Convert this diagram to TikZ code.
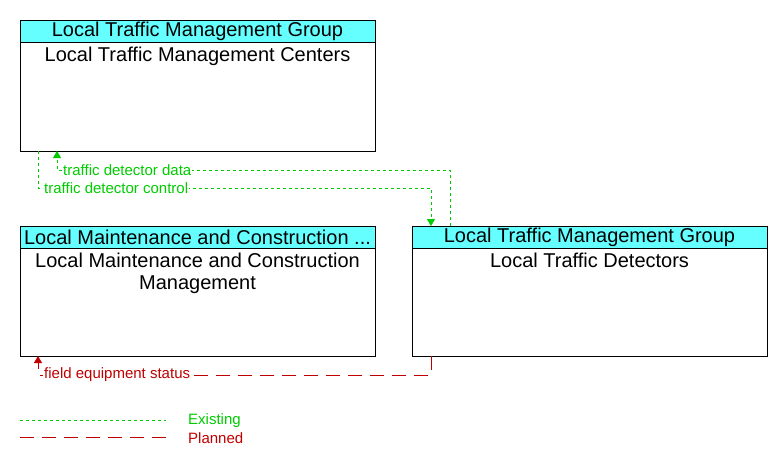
\documentclass[tikz,border=0pt]{standalone}
\usepackage{fontspec}
\setmainfont{Liberation Sans}
\usetikzlibrary{arrows.meta}
\definecolor{hdr}{RGB}{102,255,255}
\definecolor{exg}{RGB}{0,204,0}
\definecolor{pln}{RGB}{192,0,0}
\tikzset{
  x=1pt,y=-1pt,
  boxbody/.style={draw=black,line width=1pt,fill=white},
  boxhead/.style={draw=black,line width=1pt,fill=hdr},
  htext/.style={font=\fontsize{20}{22}\selectfont,anchor=center,inner sep=0},
  btext/.style={font=\fontsize{20}{22}\selectfont,align=center,anchor=north,inner sep=0},
  exist/.style={draw=exg,line width=0.8pt,dash pattern=on 3pt off 3pt},
  plan/.style={draw=pln,line width=0.8pt,dash pattern=on 14pt off 8pt},
  lbl/.style={font=\fontsize{15}{17}\selectfont,inner sep=1pt,fill=white},
  etip/.style={-{Triangle[length=7pt,width=8pt]}},
}
\begin{document}
\begin{tikzpicture}
\useasboundingbox (0,0) rectangle (782,464);
% Box 1
\path[boxbody] (20,20) rectangle (375,151);
\path[boxhead] (20,20) rectangle (375,42);
\node[htext] (h1) at (197.5,31) {Local Traffic Management Group};
\node[btext] (b1) at (197.5,47) {Local Traffic Management Centers};
% Box 2
\path[boxbody] (20,226) rectangle (375,356);
\path[boxhead] (20,226) rectangle (375,248);
\node[htext] (h2) at (197.5,237) {Local Maintenance and Construction ...};
\node[btext] (b2) at (197.5,253) {Local Maintenance and Construction\\Management};
% Box 3
\path[boxbody] (412,226) rectangle (767,356);
\path[boxhead] (412,226) rectangle (767,248);
\node[htext] (h3) at (589.5,237) {Local Traffic Management Group};
\node[btext] (b3) at (589.5,253) {Local Traffic Detectors};
% coordinates
\coordinate (d0) at (450,226);
\coordinate (d1) at (57,151);
\coordinate (c0) at (38,151);
\coordinate (c1) at (431,226);
\coordinate (f0) at (431,356);
\coordinate (f1) at (38,356);
% traffic detector data
\draw[exist,exg,etip] (d0) |- (57,170) -- (d1);
\node[lbl,text=exg,anchor=west] (l1) at (62,170) {traffic detector data};
% traffic detector control
\draw[exist,exg,etip] (c0) |- (431,188) -- (c1);
\node[lbl,text=exg,anchor=west] (l2) at (43,188) {traffic detector control};
% field equipment status
\draw[plan,pln,etip] (f0) |- (38,375) -- (f1);
\node[lbl,text=pln,anchor=west] (l3) at (43,375) {field equipment status};
% legend
\coordinate (e0) at (20,420); \coordinate (e1) at (166,420);
\coordinate (p0) at (20,437); \coordinate (p1) at (166,437);
\draw[exist] (e0) -- (e1);
\draw[plan] (p0) -- (p1);
\node[font=\fontsize{15}{17}\selectfont,text=exg,anchor=west,inner sep=0] (le) at (188,421) {Existing};
\node[font=\fontsize{15}{17}\selectfont,text=pln,anchor=west,inner sep=0] (lp) at (188,438) {Planned};
\end{tikzpicture}
\end{document}
